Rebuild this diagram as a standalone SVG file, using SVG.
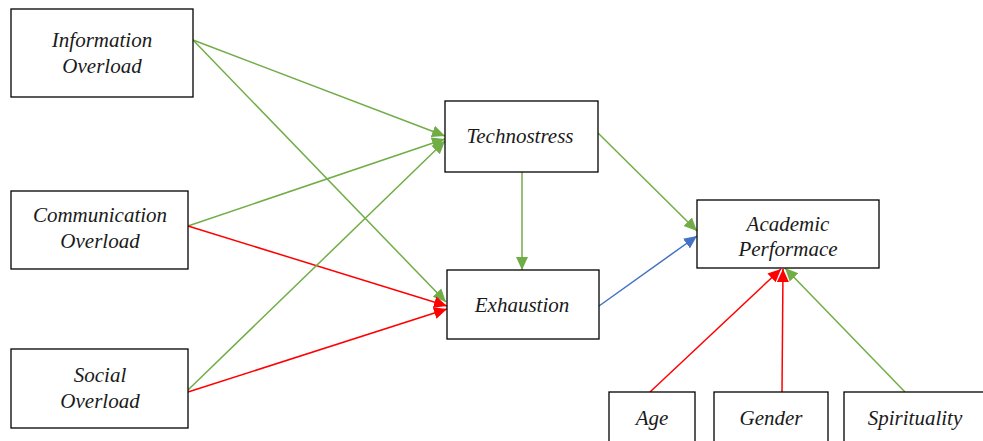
<svg xmlns="http://www.w3.org/2000/svg" width="983" height="441" viewBox="0 0 983 441">
<style>
.box{fill:#fff;stroke:#000;stroke-width:1.3}
.t{font-family:"Liberation Serif","Times New Roman",serif;font-style:italic;font-size:21px;fill:#1a1a1a;text-anchor:middle}
.g{stroke:#70AD47;stroke-width:1.5;fill:none}
.r{stroke:#FF0000;stroke-width:1.5;fill:none}
.b{stroke:#4472C4;stroke-width:1.5;fill:none}
</style>
<defs>
<marker id="ag" markerUnits="userSpaceOnUse" markerWidth="14" markerHeight="14" refX="13" refY="7" orient="auto"><path d="M0,1 L13,7 L0,13 Z" fill="#70AD47"/></marker>
<marker id="ar" markerUnits="userSpaceOnUse" markerWidth="14" markerHeight="14" refX="13" refY="7" orient="auto"><path d="M0,1 L13,7 L0,13 Z" fill="#FF0000"/></marker>
<marker id="ab" markerUnits="userSpaceOnUse" markerWidth="14" markerHeight="14" refX="13" refY="7" orient="auto"><path d="M0,1 L13,7 L0,13 Z" fill="#4472C4"/></marker>
</defs>
<rect width="983" height="441" fill="#fff"/>
<g id="connectors">
<line class="g" x1="193" y1="40" x2="445" y2="136" marker-end="url(#ag)"/>
<line class="g" x1="193" y1="40" x2="446" y2="302" marker-end="url(#ag)"/>
<line class="g" x1="188" y1="226" x2="445" y2="139" marker-end="url(#ag)"/>
<line class="r" x1="188" y1="226" x2="447" y2="306" marker-end="url(#ar)"/>
<line class="g" x1="188" y1="390" x2="445" y2="141" marker-end="url(#ag)"/>
<line class="r" x1="188" y1="392" x2="447" y2="309" marker-end="url(#ar)"/>
<line class="g" x1="522" y1="172" x2="522" y2="270" marker-end="url(#ag)"/>
<line class="g" x1="598" y1="133" x2="697" y2="231" marker-end="url(#ag)"/>
<line class="b" x1="599" y1="306" x2="697" y2="236" marker-end="url(#ab)"/>
<line class="r" x1="650" y1="392" x2="781" y2="269" marker-end="url(#ar)"/>
<line class="r" x1="782" y1="392" x2="783" y2="269" marker-end="url(#ar)"/>
<line class="g" x1="905" y1="392" x2="785" y2="268" marker-end="url(#ag)"/>
</g>
<g id="info"><rect class="box" x="11" y="9" width="182" height="88"/><text class="t" x="102" y="47">Information</text><text class="t" x="102" y="73">Overload</text></g>
<g id="comm"><rect class="box" x="11" y="191" width="177" height="78"/><text class="t" x="100" y="222">Communication</text><text class="t" x="100" y="248">Overload</text></g>
<g id="social"><rect class="box" x="11" y="349" width="177" height="79"/><text class="t" x="100" y="382">Social</text><text class="t" x="100" y="408">Overload</text></g>
<g id="technostress"><rect class="box" x="445" y="101" width="153" height="71"/><text class="t" x="520" y="143">Technostress</text></g>
<g id="exhaustion"><rect class="box" x="447" y="270" width="152" height="69"/><text class="t" x="522" y="312">Exhaustion</text></g>
<g id="academic"><rect class="box" x="697" y="200" width="182" height="68"/><text class="t" x="788" y="231">Academic</text><text class="t" x="788" y="256">Performace</text></g>
<g id="age"><rect class="box" x="609" y="392" width="86" height="60"/><text class="t" x="652" y="425">Age</text></g>
<g id="gender"><rect class="box" x="714" y="392" width="114" height="60"/><text class="t" x="771" y="425">Gender</text></g>
<g id="spirituality"><rect class="box" x="844" y="392" width="150" height="60"/><text class="t" x="915" y="425">Spirituality</text></g>
</svg>
